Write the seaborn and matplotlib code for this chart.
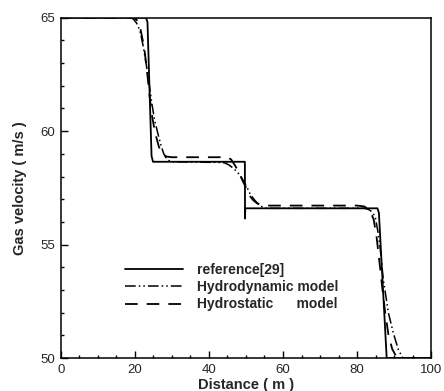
import numpy as np
import pandas as pd
import seaborn as sns
import matplotlib
matplotlib.use("Agg")
import matplotlib.pyplot as plt
from matplotlib.ticker import MultipleLocator

# reference[29] solution
ref_x = [0, 23.0, 23.4, 24.5, 24.9, 49.6, 49.7, 49.75, 49.8, 50.3, 85.5, 85.9, 88.0, 100]
ref_y = [65, 65, 64.8, 58.9, 58.65, 58.65, 58.65, 56.15, 56.6, 56.6, 56.6, 56.4, 50, 50]

# hydrodynamic model
hyd_x = [0, 18.5, 19.5, 20.5, 21.4, 22.3, 23.2, 24.0, 24.6, 25.3, 26.2, 27.0, 27.8, 28.7,
         29.8, 43.0, 44.3, 45.5, 46.6, 47.5, 48.4, 49.7, 50.4, 51.1, 51.8, 52.4, 53.8, 55.6,
         82.0, 83.1, 84.0, 84.9, 85.6, 86.2, 87.1, 88.5, 89.8, 91.2, 92.4, 100]
hyd_y = [65, 65, 64.95, 64.75, 64.4, 63.7, 62.8, 61.9, 61.2, 60.5, 59.9, 59.4, 59.0, 58.75,
         58.65, 58.62, 58.6, 58.5, 58.36, 58.22, 58.06, 57.7, 57.48, 57.24, 57.08, 56.95, 56.7, 56.6,
         56.6, 56.55, 56.45, 56.23, 55.6, 54.9, 53.44, 51.97, 51.1, 50.35, 50.0, 50]

# hydrostatic model
hst_x = [0, 19.5, 20.5, 21.5, 22.5, 23.3, 24.0, 24.7, 25.5, 26.5, 27.5, 28.5, 30.0,
         45.0, 46.0, 47.0, 48.0, 49.0, 50.0, 51.0, 52.0, 53.0, 54.5, 56.0,
         80.0, 82.0, 83.5, 84.5, 85.3, 86.0, 86.8, 87.6, 88.5, 89.5, 90.5, 91.5, 100]
hst_y = [65, 65, 64.9, 64.5, 63.7, 62.6, 61.5, 60.6, 59.9, 59.3, 59.0, 58.88, 58.85,
         58.85, 58.75, 58.5, 58.2, 57.85, 57.5, 57.15, 56.95, 56.82, 56.74, 56.72,
         56.72, 56.68, 56.5, 56.1, 55.3, 54.3, 53.1, 52.0, 51.0, 50.4, 50.1, 50.0, 50]

sns.set_style("ticks")
plt.rcParams['font.family'] = ['Liberation Sans', 'DejaVu Sans']

fig = plt.figure(figsize=(4.44, 3.91), dpi=100)
ax = fig.add_axes([0.137, 0.084, 0.834, 0.871])

sns.lineplot(x=ref_x, y=ref_y, ax=ax, sort=False, estimator=None, color="black",
             lw=1.3, label="reference[29]")
sns.lineplot(x=hyd_x, y=hyd_y, ax=ax, sort=False, estimator=None, color="black",
             lw=1.1, label="Hydrodynamic model")
sns.lineplot(x=hst_x, y=hst_y, ax=ax, sort=False, estimator=None, color="black",
             lw=1.3, label="Hydrostatic      model")
ax.lines[1].set_linestyle((0, (7, 2, 1, 2, 1, 2)))
ax.lines[2].set_linestyle((0, (7, 5)))

ax.set_xlim(0, 100)
ax.set_ylim(50, 65)
ax.set_xticks([0, 20, 40, 60, 80, 100])
ax.set_yticks([50, 55, 60, 65])
ax.xaxis.set_minor_locator(MultipleLocator(5))
ax.yaxis.set_minor_locator(MultipleLocator(1))
ax.tick_params(which="both", direction="in", top=False, right=False, labelsize=9.5,
               color="black", width=1, pad=4)
ax.tick_params(which="major", length=5)
ax.tick_params(which="minor", length=2.5)
for s in ax.spines.values():
    s.set_visible(True)
    s.set_color("black")
    s.set_linewidth(1.1)

ax.set_xlabel("Distance ( m )", fontsize=10.5, fontweight="bold", labelpad=2)
ax.set_ylabel("Gas velocity ( m/s )", fontsize=10.5, fontweight="bold", labelpad=10)

leg = ax.legend(loc="center left", bbox_to_anchor=(0.173, 0.209), frameon=False,
                borderpad=0, borderaxespad=0, handlelength=4.2, handletextpad=1.0,
                labelspacing=0.25, prop={"weight": "bold", "size": 10})

fig.savefig("out.png", dpi=100)
